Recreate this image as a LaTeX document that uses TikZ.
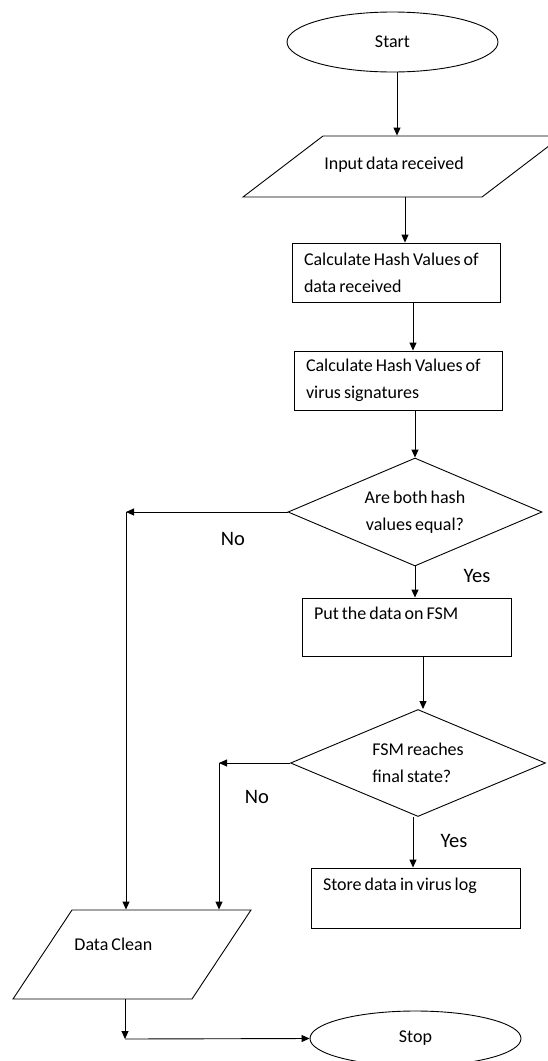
\documentclass[tikz,border=0pt]{standalone}
\usepackage{fontspec}
\setmainfont{Carlito}[WordSpace=0.75]
\usetikzlibrary{arrows.meta,shapes.geometric}
\begin{document}
\begin{tikzpicture}[x=1pt,y=-1pt,
  line width=0.9pt,
  every node/.style={font=\fontsize{18}{27}\selectfont, inner sep=0pt},
  arr/.style={-{Triangle[length=8pt,width=7pt]}},
  terminal/.style={draw, ellipse, minimum width=211pt},
  para/.style={draw, rectangle, transform shape},
  box/.style={draw, rectangle, align=flush left, inner xsep=12pt},
  decision/.style={draw, diamond, aspect=2.35},
  lab/.style={font=\fontsize{20.5}{24}\selectfont}
]
\useasboundingbox (0,0) rectangle (548,1061);

% shapes
\node[terminal, minimum height=60pt] (start) at (392.5,42) {Start};
\begin{scope}[shift={(402.5,166.5)}]
  \node[para, minimum width=239pt, minimum height=61pt, xslant=1.311] (inp) at (0,0) {};
\end{scope}
\node (inpt) at (394,165) {Input data received};
\node[box, text width=184pt, minimum height=59pt] (b1) at (396,272.5) {Calculate Hash Values of\\data received};
\node[box, text width=184pt, minimum height=59pt] (b2) at (398,380.5) {Calculate Hash Values of\\virus signatures};
\node[decision, minimum width=254pt, minimum height=108pt, align=flush center] (d1) at (415,512) {Are both hash\\values equal?};
\node[box, text width=185pt, minimum height=58pt] (b3) at (406.5,627) {Put the data on FSM\\~};
\node[decision, minimum width=255pt, minimum height=107pt, align=flush left] (d2) at (418,763) {FSM reaches\\final state?};
\node[box, text width=185pt, minimum height=60pt] (b4) at (415.5,898) {Store data in virus log\\~};
\begin{scope}[shift={(132,954.5)}]
  \node[para, minimum width=179pt, minimum height=89pt, xslant=0.663] (dc) at (0,0) {};
\end{scope}
\node[anchor=west] (dct) at (74,944) {Data Clean};
\node[terminal, minimum height=55pt] (stop) at (415.5,1038.5) {Stop};

% labels
\node[lab] (no1) at (233,539) {No};
\node[lab] (yes1) at (477,576) {Yes};
\node[lab] (no2) at (257,797) {No};
\node[lab] (yes2) at (454,841) {Yes};

% connectors
\coordinate (x1) at (397,0);
\coordinate (x2) at (405,0);
\coordinate (x3) at (413,0);
\coordinate (x4) at (423,0);
\draw[arr] (x1 |- start.south) -- (x1 |- inp.north);
\draw[arr] (x2 |- inp.south) -- (x2 |- b1.north);
\draw[arr] (x3 |- b1.south) -- (x3 |- b2.north);
\draw[arr] (d1.north |- b2.south) -- (d1.north);
\draw[arr] (d1.south) -- (d1.south |- b3.north);
\draw[arr] (x4 |- b3.south) -- (x4 |- d2.north);
\draw[arr] (x3 |- d2.south) -- (x3 |- b4.north);

\coordinate (n1) at (126,512);
\coordinate (n2) at (219,763);
\coordinate (n3) at (125,1039);
\draw[arr] (d1.west) -- (n1);
\draw[arr] (n1) -- (n1 |- dc.north);
\draw[arr] (d2.west) -- (n2);
\draw[arr] (n2) -- (n2 |- dc.north);
\draw[arr] (n3 |- dc.south) -- (n3);
\draw[arr] (n3) -- (stop.west);
\end{tikzpicture}
\end{document}
